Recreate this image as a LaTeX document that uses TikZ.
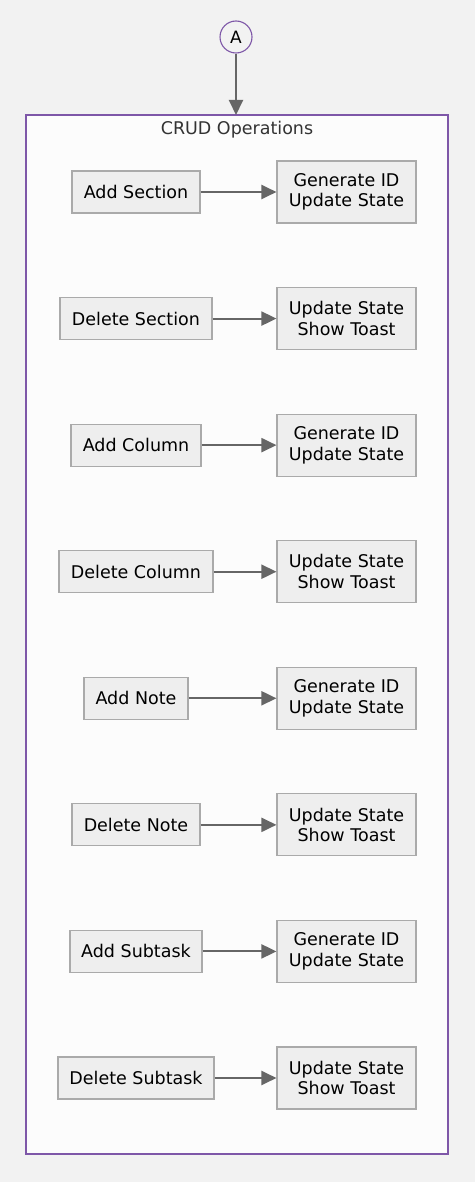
\documentclass[tikz,border=0pt]{standalone}
\usepackage{fontspec}
\setmainfont{DejaVu Sans}
\usetikzlibrary{arrows.meta,positioning}
\definecolor{pagegray}{HTML}{F2F2F2}
\definecolor{clusterfill}{HTML}{FCFCFC}
\definecolor{clusterline}{HTML}{7E57A8}
\definecolor{boxfill}{HTML}{EEEEEE}
\definecolor{boxline}{HTML}{AAAAAA}
\definecolor{flowgray}{HTML}{666666}
\tikzset{
  opbox/.style={draw=boxline, fill=boxfill, line width=1.1pt, minimum height=42pt, inner sep=0pt, font=\fontsize{17.5}{20.5}\selectfont},
  resbox/.style={opbox, minimum width=139pt, minimum height=62pt, align=center},
  flow/.style={draw=flowgray, line width=2pt, -{Triangle[length=15pt,width=14pt]}}
}
\begin{document}
\begin{tikzpicture}[x=1pt,y=-1pt]
\useasboundingbox[fill=pagegray] (0,0) rectangle (475,1182);
% cluster
\node[draw=clusterline, fill=clusterfill, line width=1.1pt, minimum width=422pt, minimum height=1039pt, inner sep=0pt] (crud) at (237,634.5) {};
\node[text=black!80, font=\fontsize{17.5}{20.5}\selectfont] (title) at (237,130) {CRUD Operations};
% entry
\node[circle, draw=clusterline, fill=pagegray, line width=1.1pt, minimum size=32pt, inner sep=0pt, font=\fontsize{17}{19}\selectfont] (start) at (236,37) {A};
\draw[flow] (start) -- (236,115) coordinate (crudtop);
% rows
\foreach \i/\op/\w/\res in {0/Add Section/128/{Generate ID\\Update State},
                             1/Delete Section/152/{Update State\\Show Toast},
                             2/Add Column/130/{Generate ID\\Update State},
                             3/Delete Column/154/{Update State\\Show Toast},
                             4/Add Note/104/{Generate ID\\Update State},
                             5/Delete Note/128/{Update State\\Show Toast},
                             6/Add Subtask/132/{Generate ID\\Update State},
                             7/Delete Subtask/156/{Update State\\Show Toast}} {
  \node[opbox, minimum width=\w pt] (op\i) at (136,192+126.57*\i) {\op};
  \node[resbox] (res\i) at (346.5,192+126.57*\i) {\res};
  \draw[flow] (op\i) -- (res\i);
}
\end{tikzpicture}
\end{document}
